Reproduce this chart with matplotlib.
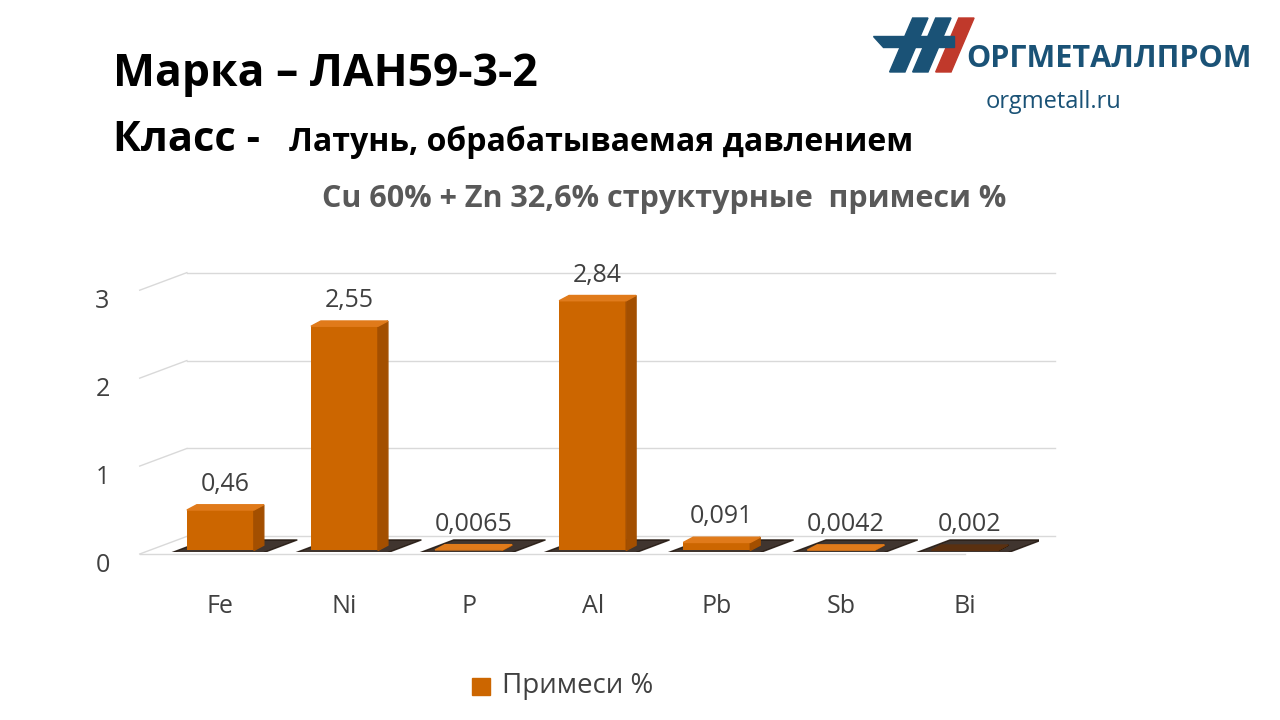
import matplotlib
matplotlib.use("Agg")
import matplotlib.pyplot as plt
from matplotlib.patches import Polygon

categories = ["Fe", "Ni", "P", "Al", "Pb", "Sb", "Bi"]
values = [0.46, 2.55, 0.0065, 2.84, 0.091, 0.0042, 0.002]
labels = ["0,46", "2,55", "0,0065", "2,84", "0,091", "0,0042", "0,002"]
yticks = [0, 1, 2, 3]
colors = ["#cc6600"] * 6 + ["#3a1a00"]

plt.rcParams["font.family"] = "Open Sans"
fig = plt.figure(figsize=(12.8, 7.2), dpi=100)
ax = fig.add_axes([0.114, 0.233, 0.698, 0.403])
ax.set_xlim(-0.6, 6.6)
ax.set_ylim(0, 3.3)
ax.axis("off")

dx, dy = 0.33, 0.33
for t in yticks:
    ax.plot([-0.65, -0.6 + dx], [t + 0.13 - 0.15, t + dy - 0.15], color="#d9d9d9", lw=1, clip_on=False)
    ax.plot([-0.6 + dx, 6.4 + dx], [t + dy - 0.15, t + dy - 0.15], color="#d9d9d9", lw=1, clip_on=False)
    ax.text(-0.95, t - 0.15, str(t), fontsize=18, color="#404040", ha="center", va="center")
ax.plot([-0.65, 6.0], [-0.02, -0.02], color="#d9d9d9", lw=1, clip_on=False)

w = 0.54
for i, (v, c, lab) in enumerate(zip(values, colors, labels)):
    x0 = i - w / 2
    ax.add_patch(Polygon([(x0 - 0.15, -0.02), (x0 + w + 0.05, -0.02), (x0 + w + 0.35, 0.14), (x0 + 0.15, 0.14)],
                         closed=True, color="#1e120a", alpha=0.85, zorder=1))
    ax.bar(i, v, width=w, bottom=0.02, color=c, zorder=3)
    side = "#a34f00" if c == "#cc6600" else "#221000"
    top = "#e07a1a" if c == "#cc6600" else "#5a3010"
    ax.add_patch(Polygon([(x0 + w, 0.02), (x0 + w + 0.08, 0.08), (x0 + w + 0.08, v + 0.08), (x0 + w, v + 0.02)],
                         closed=True, color=side, zorder=3))
    ax.add_patch(Polygon([(x0, v + 0.02), (x0 + w, v + 0.02), (x0 + w + 0.08, v + 0.08), (x0 + 0.08, v + 0.08)],
                         closed=True, color=top, zorder=3))
    ax.text(i + 0.04, v + 0.17, lab, fontsize=18, color="#404040", ha="center", va="bottom", zorder=4)
    ax.text(i, -0.62, categories[i], fontsize=18, color="#404040", ha="center", va="center")

fig.text(0.088, 0.897, "Марка – ЛАН59-3-2", fontsize=32, fontweight="bold", ha="left", va="center")
fig.text(0.088, 0.805, "Класс -", fontsize=30, fontweight="bold", ha="left", va="center")
fig.text(0.226, 0.803, "Латунь, обрабатываемая давлением", fontsize=23, fontweight="bold", ha="left", va="center")
fig.text(0.519, 0.724, "Cu 60% + Zn 32,6% структурные  примеси %", fontsize=22, fontweight="bold",
         color="#595959", ha="center", va="center")
fig.text(0.755, 0.918, "ОРГМЕТАЛЛПРОМ", fontsize=22, fontweight="bold", color="#1a5276", ha="left", va="center")
fig.text(0.77, 0.858, "orgmetall.ru", fontsize=17, color="#1a5276", ha="left", va="center")
for k, col in enumerate(["#1a5276", "#1a5276", "#c0392b"]):
    x = 0.695 + k * 0.018
    fig.patches.append(Polygon([(x, 0.90), (x + 0.012, 0.90), (x + 0.03, 0.975), (x + 0.018, 0.975)],
                               closed=True, transform=fig.transFigure, color=col))
fig.patches.append(Polygon([(0.682, 0.95), (0.745, 0.95), (0.745, 0.935), (0.69, 0.935)], closed=True,
                           transform=fig.transFigure, color="#1a5276"))

fig.patches.append(Polygon([(0.369, 0.035), (0.383, 0.035), (0.383, 0.059), (0.369, 0.059)], closed=True,
                           transform=fig.transFigure, color="#cc6600"))
fig.text(0.392, 0.047, "Примеси %", fontsize=20, color="#404040", ha="left", va="center")

fig.savefig("out.png", dpi=100)
